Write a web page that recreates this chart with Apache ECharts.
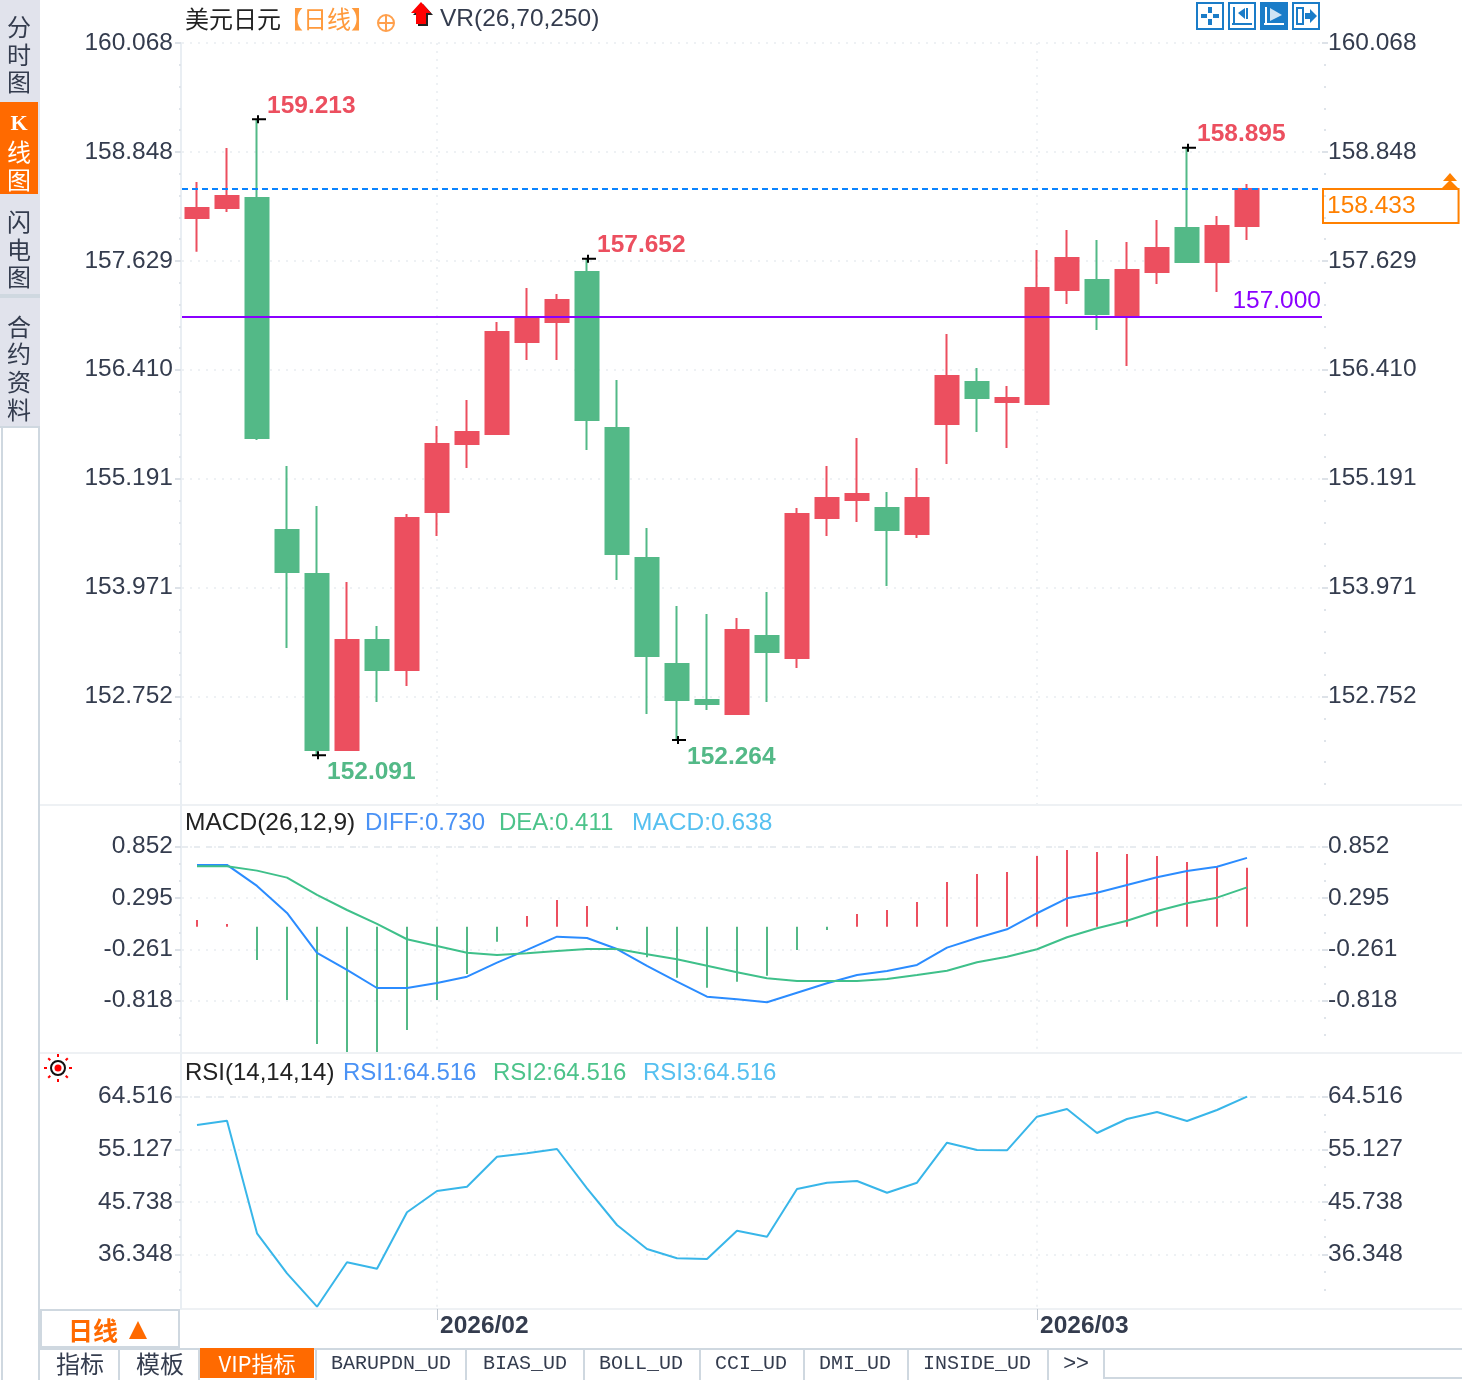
<!DOCTYPE html>
<html>
<head>
<meta charset="utf-8">
<title>美元日元</title>
<script src="https://cdn.jsdelivr.net/npm/echarts@6/dist/echarts.min.js"></script>
<style>
	html, body { margin: 0; padding: 0; background: #fff; }
	#main { width: 1462px; height: 1380px; }
</style>
</head>
<body>
<div id="main"></div>
<script>
// trading days, last two slots stay empty on the right
var dates = ['2026-01-21', '2026-01-22', '2026-01-23', '2026-01-26', '2026-01-27', '2026-01-28', '2026-01-29', '2026-01-30',
	'2026-02-02', '2026-02-03', '2026-02-04', '2026-02-05', '2026-02-06', '2026-02-09', '2026-02-10', '2026-02-11', '2026-02-12', '2026-02-13',
	'2026-02-16', '2026-02-17', '2026-02-18', '2026-02-19', '2026-02-20', '2026-02-23', '2026-02-24', '2026-02-25', '2026-02-26', '2026-02-27',
	'2026-03-02', '2026-03-03', '2026-03-04', '2026-03-05', '2026-03-06', '2026-03-09', '2026-03-10', '2026-03-11', '', ''];
var monthStarts = [8, 28];

// open, close, low, high
var candles = [
	[158.108, 158.220, 157.731, 158.511], [158.220, 158.355, 158.176, 158.892], [158.332, 155.645, 155.622, 159.213],
	[154.615, 154.144, 153.293, 155.331], [154.122, 152.151, 152.091, 154.883], [152.151, 153.383, 152.151, 154.032],
	[153.383, 153.047, 152.689, 153.540], [153.047, 154.749, 152.868, 154.794], [154.816, 155.578, 154.547, 155.779],
	[155.578, 155.712, 155.309, 156.070], [155.690, 156.832, 155.690, 156.944], [156.720, 156.989, 156.518, 157.325],
	[156.944, 157.190, 156.518, 157.257], [157.504, 155.846, 155.510, 157.652], [155.757, 154.346, 154.055, 156.294],
	[154.301, 153.204, 152.554, 154.637], [153.114, 152.711, 152.264, 153.764], [152.711, 152.666, 152.599, 153.674],
	[152.554, 153.495, 152.554, 153.629], [153.428, 153.248, 152.689, 153.920], [153.181, 154.794, 153.069, 154.861],
	[154.749, 154.973, 154.547, 155.331], [154.951, 155.018, 154.704, 155.645], [154.861, 154.615, 153.988, 155.040],
	[154.570, 154.973, 154.525, 155.309], [155.802, 156.339, 155.354, 156.809], [156.272, 156.093, 155.712, 156.429],
	[156.048, 156.093, 155.533, 156.227], [156.026, 157.325, 156.026, 157.750], [157.302, 157.660, 157.145, 157.974],
	[157.414, 157.033, 156.854, 157.862], [157.011, 157.526, 156.451, 157.840], [157.504, 157.772, 157.369, 158.086],
	[157.996, 157.616, 157.616, 158.895], [157.616, 158.019, 157.280, 158.131], [158.019, 158.433, 157.862, 158.489]
];
var extremeIndex = [2, 13, 33, 4, 16];
var extremeValue = [159.213, 157.652, 158.895, 152.091, 152.264];
var extremeIsHigh = [true, true, true, false, false];
var lastPrice = 158.433;
var alertPrice = 157.000;

var priceTicks = [160.068, 158.848, 157.629, 156.410, 155.191, 153.971, 152.752];
var macdTicks = [0.852, 0.295, -0.261, -0.818];
var rsiTicks = [64.516, 55.127, 45.738, 36.348];

var diff = [0.654, 0.654, 0.426, 0.133, -0.301, -0.485, -0.681, -0.681, -0.626, -0.558, -0.406, -0.268,
	-0.124, -0.138, -0.258, -0.442, -0.612, -0.775, -0.803, -0.836, -0.732, -0.630, -0.540, -0.496,
	-0.431, -0.243, -0.138, -0.044, 0.130, 0.292, 0.353, 0.437, 0.520, 0.588, 0.635, 0.730];
var dea = [0.639, 0.639, 0.592, 0.516, 0.328, 0.165, 0.014, -0.152, -0.225, -0.298, -0.323, -0.304,
	-0.279, -0.258, -0.258, -0.315, -0.369, -0.439, -0.510, -0.575, -0.605, -0.605, -0.605, -0.583,
	-0.540, -0.493, -0.402, -0.341, -0.261, -0.131, -0.033, 0.049, 0.155, 0.238, 0.299, 0.411];
var macdHist = [0.073, 0.029, -0.361, -0.795, -1.272, -1.400, -1.400, -1.120, -0.795, -0.513, -0.163, 0.116,
	0.290, 0.225, -0.036, -0.332, -0.553, -0.662, -0.597, -0.531, -0.253, -0.036, 0.138, 0.181,
	0.268, 0.485, 0.572, 0.593, 0.767, 0.832, 0.810, 0.788, 0.767, 0.702, 0.658, 0.638];
var rsi = [59.471, 60.237, 40.163, 33.032, 27.077, 34.993, 33.852, 43.907, 47.704, 48.471, 53.819, 54.425,
	55.192, 48.186, 41.643, 37.364, 35.706, 35.581, 40.626, 39.557, 48.061, 49.184, 49.487, 47.401,
	49.184, 56.315, 55.014, 54.960, 60.950, 62.323, 58.044, 60.540, 61.788, 60.184, 62.145, 64.516];

var RED = '#ec4f5f';
var GREEN = '#53b987';
var ORANGE = '#ff8000';
var TAB_ORANGE = '#ff6a00';
var TEXT = '#343c4e';
var LIGHT = '#eef1f4';
var EDGE = '#cfd8e0';
var SANS = '"Liberation Sans", Arial, sans-serif';
var CJK = '"Noto Sans CJK SC", sans-serif';
var NUM_SIZE = 24.5;

var yAxes = [];

// left + right labelled axes and the small dots next to them, one set per panel
function addPanelAxes(gridIndex, min, max, ticks, dotsPerStep, labelLift) {
	var step = (ticks[0] - ticks[1]) / dotsPerStep;
	var dots = [];
	for (var k = 1; ticks[0] - k * step > min; k++) {
		if (k % dotsPerStep != 0) dots.push(ticks[0] - k * step);
	}
	var first = yAxes.length;
	['left', 'right'].forEach(function(side) {
		yAxes.push({
			type: 'value', gridIndex: gridIndex, position: side, min: min, max: max, scale: true,
			offset: side == 'left' ? 1 : 0,
			axisLine: { show: side == 'left', lineStyle: { color: '#e9eef3', width: 2 } },
			axisTick: { show: true, customValues: ticks, length: 6, lineStyle: { color: '#dde2e8', width: 2 } },
			axisLabel: {
				show: true, customValues: ticks, margin: side == 'left' ? 8 : 6, color: TEXT, fontSize: NUM_SIZE, fontFamily: SANS,
				padding: [0, 0, labelLift, 0], formatter: function(v) { return v.toFixed(3); }
			},
			splitLine: { show: side == 'left', lineStyle: { color: LIGHT, width: 2, type: [2, 6] } }
		});
		yAxes.push({
			type: 'value', gridIndex: gridIndex, position: side, min: min, max: max, scale: true,
			offset: side == 'left' ? 1 : 2,
			axisLine: { show: false },
			axisTick: { show: true, customValues: dots, length: 2, lineStyle: { color: '#dfe4ea', width: 2 } },
			axisLabel: { show: false },
			splitLine: { show: false }
		});
	});
	return first;
}

var priceMin = 151.535, priceMax = 160.068;
var macdMin = -1.375, macdMax = 1.293;
var rsiMin = 26.666, rsiMax = 72.129;

var priceAxis = addPanelAxes(0, priceMin, priceMax, priceTicks, 5, 6);
var macdAxis = addPanelAxes(1, macdMin, macdMax, macdTicks, 3, 5);
var rsiAxis = addPanelAxes(2, rsiMin, rsiMax, rsiTicks, 3, 5);

// the histogram sits a little under the MACD zero line in the original
var histAxis = yAxes.length;
yAxes.push({ type: 'value', gridIndex: 1, show: false, min: -1.359, max: 1.309 });

// dashed top line and dotted month lines of a panel, kept behind the candles
function panelGuides(xIndex, yIndex, topTick, bottom) {
	var lines = [{ yAxis: topTick, lineStyle: { color: '#e8ecf0', width: 2, type: [6, 6] } }];
	monthStarts.forEach(function(i) {
		lines.push([
			{ coord: [i, topTick], lineStyle: { color: LIGHT, width: 2, type: [2, 6] } },
			{ coord: [i, bottom] }
		]);
	});
	return {
		type: 'line', xAxisIndex: xIndex, yAxisIndex: yIndex, data: [], z: 1, silent: true,
		markLine: { z: 1, symbol: ['none', 'none'], silent: true, animation: false, label: { show: false }, data: lines }
	};
}

var extremes = extremeIndex.map(function(x, i) {
	var high = extremeIsHigh[i];
	return {
		value: [x, extremeValue[i]],
		label: { color: high ? RED : GREEN, offset: [0, high ? -13 : 17] }
	};
});

function xAxisFor(gridIndex, visible) {
	var isMonth = function(i) { return monthStarts.indexOf(i) >= 0; };
	return {
		type: 'category', gridIndex: gridIndex, data: dates, show: visible, boundaryGap: true,
		axisLine: { show: false },
		axisTick: { show: visible, alignWithLabel: true, length: 11, interval: isMonth, lineStyle: { color: '#bfc6cf', width: 1 } },
		axisLabel: {
			show: visible, interval: isMonth, align: 'left', margin: 5, padding: [0, 0, 0, 3], hideOverlap: false,
			color: TEXT, fontSize: NUM_SIZE, fontWeight: 'bold', fontFamily: SANS,
			formatter: function(v) { return v.slice(0, 7).replace('-', '/'); }
		},
		splitLine: { show: false }
	};
}

// --- page furniture around the plot ---
var furniture = [];

function box(x, y, w, h, fill, stroke, lineWidth) {
	furniture.push({
		type: 'rect', shape: { x: x, y: y, width: w, height: h }, silent: true,
		style: { fill: fill || 'none', stroke: stroke || 'none', lineWidth: lineWidth || 0 }
	});
}
function label(x, y, text, color, size, family, weight, align) {
	furniture.push({
		type: 'text', x: x, y: y, silent: true,
		style: {
			text: text, fill: color, fontSize: size, fontFamily: family, fontWeight: weight || 'normal',
			textAlign: align || 'left', textVerticalAlign: 'middle'
		}
	});
}
function poly(points, fill) {
	furniture.push({ type: 'polygon', shape: { points: points }, silent: true, style: { fill: fill } });
}
function stroke(x1, y1, x2, y2, color, width) {
	furniture.push({
		type: 'line', shape: { x1: x1, y1: y1, x2: x2, y2: y2 }, silent: true,
		style: { stroke: color, lineWidth: width }
	});
}
function ring(x, y, r, fill, color, width) {
	furniture.push({
		type: 'circle', shape: { cx: x, cy: y, r: r }, silent: true,
		style: { fill: fill, stroke: color || 'none', lineWidth: width || 0 }
	});
}

// left tabs
box(0, 0, 40, 428, '#e1e3ec');
box(0, 294, 40, 4, EDGE);
box(0, 426, 40, 2, EDGE);
box(0, 102, 38, 92, TAB_ORANGE);
box(38, 428, 2, 952, EDGE);
box(1, 428, 2, 952, EDGE);
[[27, '分'], [55, '时'], [82, '图'], [222, '闪'], [250, '电'], [277, '图'], [327, '合'], [354, '约'], [382, '资'], [410, '料']].forEach(function(t) {
	label(19, t[0], t[1], TEXT, 24, CJK, 'normal', 'center');
});
label(19, 124, 'K', '#fff', 22, '"Liberation Serif", serif', 'bold', 'center');
[[152, '线'], [180, '图']].forEach(function(t) {
	label(19, t[0], t[1], '#fff', 24, CJK, 'normal', 'center');
});

// panel separators
box(40, 804, 1422, 2, LIGHT);
box(40, 1052, 1422, 2, LIGHT);
box(180, 1308, 1282, 2, LIGHT);

// header lines
label(185, 19, '美元日元', '#222', 24, CJK);
label(279, 19, '【日线】', '#ff9a3c', 24, CJK);
ring(386, 23, 8, 'none', '#ffa04d', 2);
stroke(378, 23, 394, 23, '#ffa04d', 2);
stroke(386, 15, 386, 31, '#ffa04d', 2);
poly([[423, 4], [433, 15], [428, 15], [428, 26], [418, 26], [418, 15], [413, 15]], '#222');
poly([[421, 2], [431, 13], [426, 13], [426, 24], [416, 24], [416, 13], [411, 13]], '#f00');
label(440, 19, 'VR(26,70,250)', TEXT, NUM_SIZE, SANS);

label(185, 823, 'MACD(26,12,9)', '#222', NUM_SIZE, SANS);
label(365, 823, 'DIFF:0.730', '#4a92f5', 24, SANS);
label(499, 823, 'DEA:0.411', '#4cc38a', 24, SANS);
label(632, 823, 'MACD:0.638', '#56c0f0', NUM_SIZE, SANS);

label(185, 1073, 'RSI(14,14,14)', '#222', 24, SANS);
label(343, 1073, 'RSI1:64.516', '#4a92f5', 24, SANS);
label(493, 1073, 'RSI2:64.516', '#4cc38a', 24, SANS);
label(643, 1073, 'RSI3:64.516', '#56c0f0', 24, SANS);

// settings sun next to the RSI panel
[[0, -1], [0.7, -0.7], [1, 0], [0.7, 0.7], [0, 1], [-0.7, 0.7], [-1, 0], [-0.7, -0.7]].forEach(function(d) {
	stroke(58 + d[0] * 11, 1068 + d[1] * 11, 58 + d[0] * 14, 1068 + d[1] * 14, '#f00', 2);
});
ring(58, 1068, 7, '#fff', '#111', 2);
ring(58, 1068, 3.5, '#f00');

// tool buttons top right
var BTN = '#1a7cc8';
box(1197, 3, 26, 26, '#fff', BTN, 2);
box(1208, 7, 4, 6, BTN); box(1208, 19, 4, 6, BTN); box(1201, 14, 6, 4, BTN); box(1213, 14, 6, 4, BTN);
box(1229, 3, 26, 26, '#fff', BTN, 2);
stroke(1234, 7, 1234, 25, BTN, 2); stroke(1232, 24, 1252, 24, BTN, 2);
poly([[1238, 13], [1245, 8], [1245, 19]], BTN); stroke(1247, 8, 1247, 19, BTN, 2);
box(1261, 3, 26, 26, BTN, BTN, 2);
stroke(1266, 7, 1266, 25, '#fff', 2); stroke(1264, 24, 1284, 24, '#fff', 2);
poly([[1270, 8], [1282, 15], [1270, 21]], '#cfe3f4');
box(1293, 3, 26, 26, '#fff', BTN, 2);
box(1297, 8, 6, 16, 'none', BTN, 2);
poly([[1305, 13], [1310, 13], [1310, 9], [1317, 16], [1310, 23], [1310, 19], [1305, 19]], BTN);

// arrows above the last price box
poly([[1450, 173], [1457, 181], [1443, 181]], ORANGE);
poly([[1450, 180], [1458, 188], [1442, 188]], ORANGE);

// period box and bottom tabs
box(41, 1310, 138, 37, '#fff', EDGE, 2);
label(68, 1330, '日线', TAB_ORANGE, 25, CJK, 'bold');
poly([[138, 1321], [147, 1339], [129, 1339]], TAB_ORANGE);
box(40, 1348, 1422, 2, EDGE);
box(200, 1348, 114, 30, TAB_ORANGE);
[118, 198, 315, 465, 583, 699, 803, 907, 1047].forEach(function(x) {
	box(x, 1350, 2, 30, EDGE);
});
box(1103, 1350, 2, 28, EDGE);
box(1103, 1377, 359, 2, EDGE);
label(80, 1364, '指标', TEXT, 24, CJK, 'normal', 'center');
label(160, 1364, '模板', TEXT, 24, CJK, 'normal', 'center');
label(257, 1364, 'VIP指标', '#fff', 22, CJK, 'normal', 'center');
[[391, 'BARUPDN_UD'], [525, 'BIAS_UD'], [641, 'BOLL_UD'], [751, 'CCI_UD'], [855, 'DMI_UD'], [977, 'INSIDE_UD']].forEach(function(t) {
	label(t[0], 1364, t[1], TEXT, 20, '"Liberation Mono", monospace', 'normal', 'center');
});
label(1076, 1364, '>>', TEXT, 22, SANS, 'normal', 'center');

var myChart = echarts.init(document.getElementById('main'));

var option = {
	animation: false,
	backgroundColor: '#fff',
	graphic: { elements: furniture },
	grid: [
		{ left: 182, width: 1140, top: 43, height: 762 },
		{ left: 182, width: 1140, top: 806, height: 246 },
		{ left: 182, width: 1140, top: 1054, height: 255 }
	],
	xAxis: [xAxisFor(0, false), xAxisFor(1, false), xAxisFor(2, true)],
	yAxis: yAxes,
	series: [
		panelGuides(0, priceAxis, priceTicks[0], priceMin),
		panelGuides(1, macdAxis, macdTicks[0], macdMin),
		panelGuides(2, rsiAxis, rsiTicks[0], rsiMin),
		{
			type: 'candlestick', xAxisIndex: 0, yAxisIndex: priceAxis, data: candles, barWidth: 24, z: 3,
			itemStyle: { color: RED, color0: GREEN, borderColor: RED, borderColor0: GREEN, borderWidth: 2 },
			markLine: {
				symbol: ['none', 'none'], silent: true, animation: false, precision: 3,
				data: [
					{
						yAxis: lastPrice,
						lineStyle: { color: '#0a84ff', width: 2, type: [6, 4] },
						label: {
							show: true, position: 'end', distance: 1, align: 'left', verticalAlign: 'top',
							color: ORANGE, fontSize: NUM_SIZE, fontFamily: SANS, lineHeight: 24,
							borderColor: ORANGE, borderWidth: 2, padding: [5, 43, 5, 4],
							formatter: function() { return lastPrice.toFixed(3); }
						}
					},
					{
						yAxis: alertPrice,
						lineStyle: { color: '#8a00ff', width: 2, type: 'solid' },
						label: {
							show: true, position: 'insideEndTop', distance: 3, offset: [2, 0],
							color: '#8a00ff', fontSize: NUM_SIZE, fontFamily: SANS,
							formatter: function() { return alertPrice.toFixed(3); }
						}
					}
				]
			}
		},
		{
			type: 'scatter', xAxisIndex: 0, yAxisIndex: priceAxis, data: extremes, z: 5,
			symbol: 'path://M0 3H14V5H0ZM5 0H7V8H5Z', symbolSize: [14, 8], symbolOffset: [2, 0],
			itemStyle: { color: '#000', opacity: 1 },
			label: {
				show: true, position: 'right', distance: 1, fontSize: NUM_SIZE, fontWeight: 'bold', fontFamily: SANS,
				formatter: function(p) { return p.value[1].toFixed(3); }
			}
		},
		{
			type: 'bar', xAxisIndex: 1, yAxisIndex: histAxis, data: macdHist, barWidth: 2, z: 3,
			itemStyle: { color: function(p) { return p.value >= 0 ? RED : GREEN; } }
		},
		{
			type: 'line', xAxisIndex: 1, yAxisIndex: macdAxis, data: diff, z: 4, symbol: 'none',
			lineStyle: { color: '#2b8cff', width: 2 }
		},
		{
			type: 'line', xAxisIndex: 1, yAxisIndex: macdAxis, data: dea, z: 4, symbol: 'none',
			lineStyle: { color: '#3fc08a', width: 2 }
		},
		{
			type: 'line', xAxisIndex: 2, yAxisIndex: rsiAxis, data: rsi, z: 4, symbol: 'none',
			lineStyle: { color: '#38b6e9', width: 2 }
		}
	]
};
myChart.setOption(option);
</script>
</body>
</html>
